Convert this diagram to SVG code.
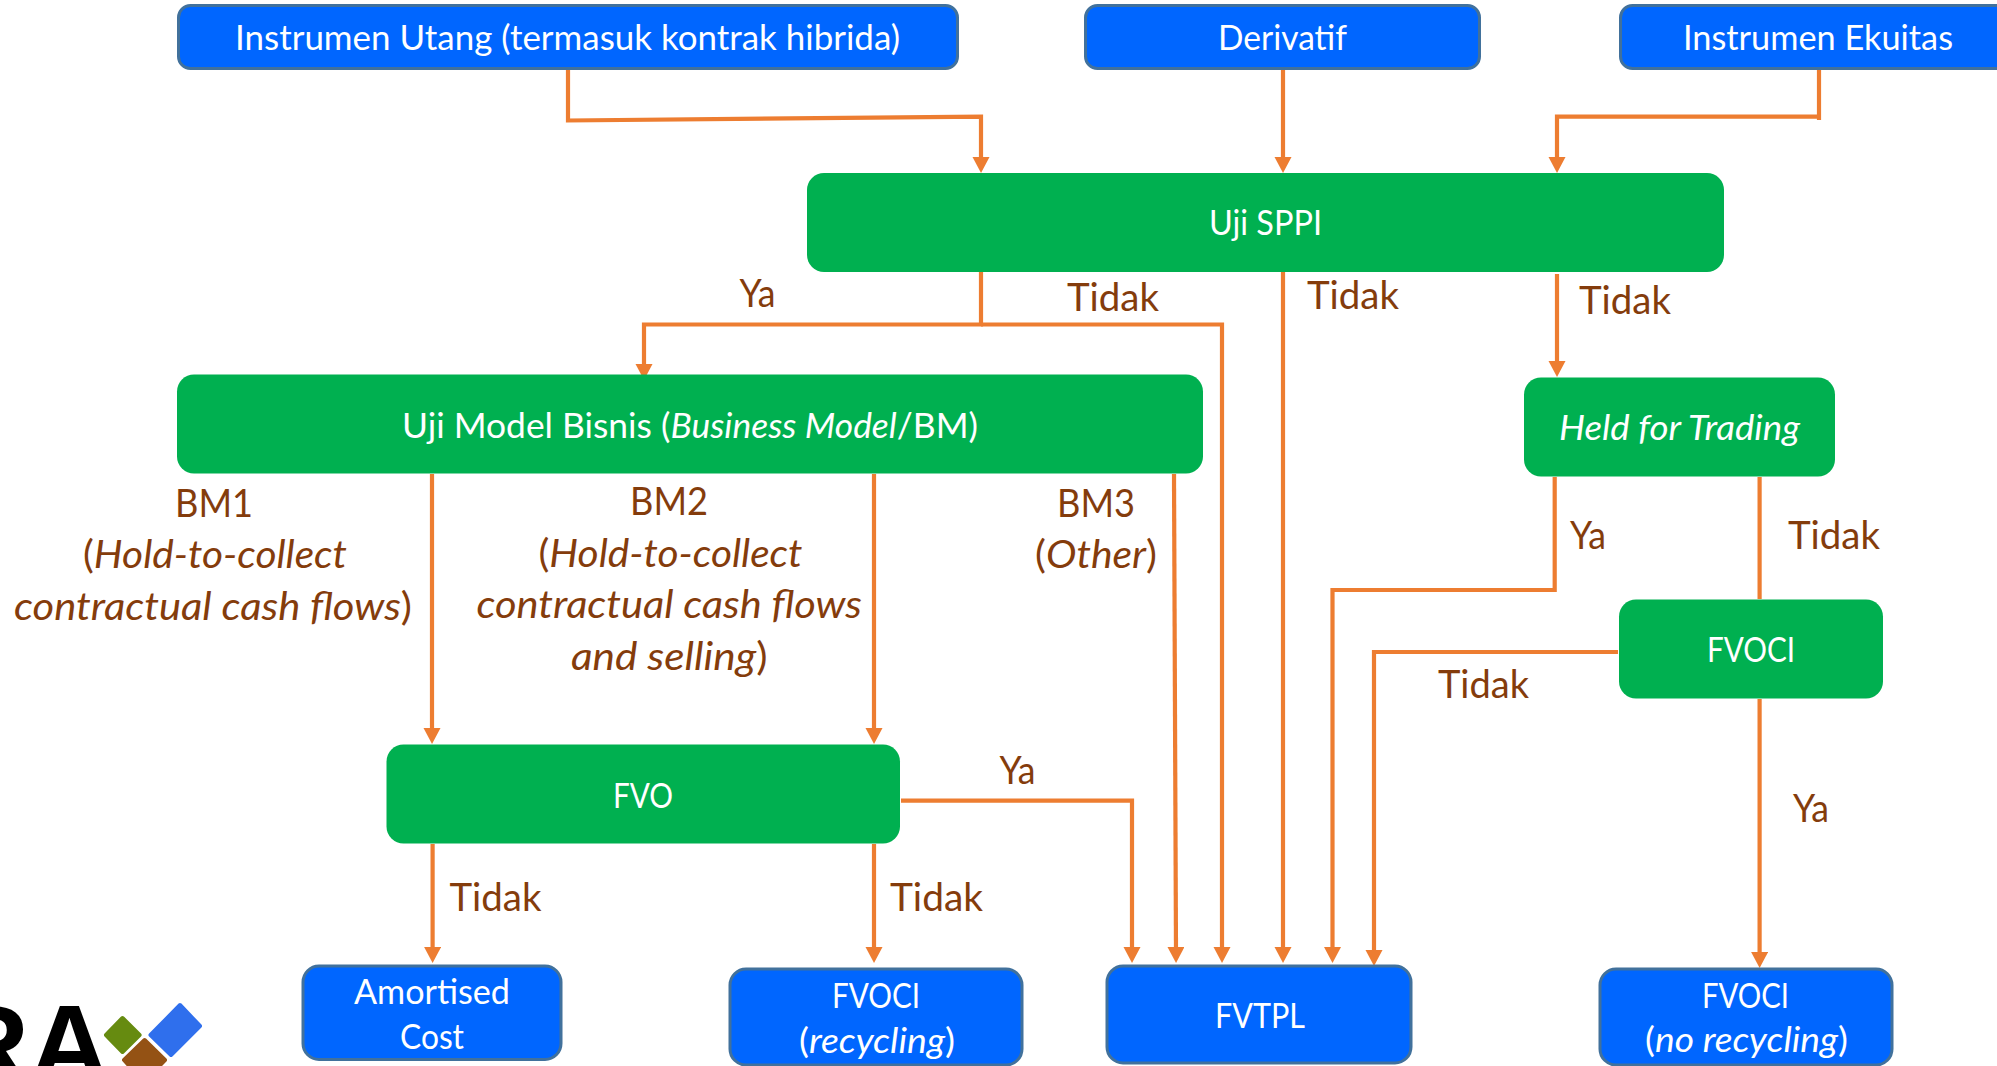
<svg xmlns="http://www.w3.org/2000/svg" width="1997" height="1066" viewBox="0 0 1997 1066">
<style>
text{font-family:Lato,"Open Sans","Liberation Sans",sans-serif}
.w{fill:#fff;font-size:34px}
.b{fill:#843C0C;font-size:39px}
.i{font-style:italic}
.blue{fill:#0066FF;stroke:#41719C;stroke-width:3}
.green{fill:#00B050}
.c{fill:none;stroke:#ED7D31;stroke-width:4.200}
.a{marker-end:url(#arr)}
</style>
<defs>
<marker id="arr" markerUnits="userSpaceOnUse" markerWidth="18" markerHeight="18" refX="6" refY="8.500" orient="auto"><path d="M0,0L16,8.500L0,17z" fill="#ED7D31"/></marker>
</defs>
<rect width="1997" height="1066" fill="#fff"/>

<g id="connectors">
<path class="c a" d="M568,69V120.500L981,116.700V163"/>
<path class="c a" d="M1283,69V163"/>
<path class="c" d="M1819,69V120"/>
<path class="c a" d="M1819,116.700H1557V163"/>
<path class="c a" d="M981,272V324.500H644V370"/>
<path class="c a" d="M981,324.500H1222V953"/>
<path class="c a" d="M1283,272V953"/>
<path class="c a" d="M1557,274V367"/>
<path class="c a" d="M432,474V734"/>
<path class="c a" d="M874,474V734"/>
<path class="c a" d="M1174,474L1176,953"/>
<path class="c a" d="M1554.700,477V590H1332.500V953"/>
<path class="c" d="M1759.600,477V599"/>
<path class="c a" d="M1618,652H1374V956"/>
<path class="c a" d="M1759.600,699V958"/>
<path class="c a" d="M901,800.700H1132V953"/>
<path class="c a" d="M432.600,844V953"/>
<path class="c a" d="M874,844V953"/>
</g>

<g id="node-utang"><rect class="blue" x="178.500" y="5.500" width="779" height="63" rx="12"/><text class="w" x="235" y="50" textLength="665" lengthAdjust="spacingAndGlyphs">Instrumen Utang (termasuk kontrak hibrida)</text></g>
<g id="node-derivatif"><rect class="blue" x="1085.500" y="5.500" width="394" height="63" rx="12"/><text class="w" x="1218" y="50" textLength="129" lengthAdjust="spacingAndGlyphs">Derivatif</text></g>
<g id="node-ekuitas"><rect class="blue" x="1620.500" y="5.500" width="400" height="63" rx="12"/><text class="w" x="1683" y="50" textLength="270" lengthAdjust="spacingAndGlyphs">Instrumen Ekuitas</text></g>
<g id="node-sppi"><rect class="green" x="807" y="173" width="917" height="99" rx="17"/><text class="w" x="1209" y="235" textLength="113" lengthAdjust="spacingAndGlyphs">Uji SPPI</text></g>
<g id="node-model"><rect class="green" x="177" y="374.500" width="1026" height="99" rx="17"/><text class="w" x="402" y="438" textLength="576" lengthAdjust="spacingAndGlyphs">Uji Model Bisnis (<tspan class="i">Business Model</tspan>/BM)</text></g>
<g id="node-hft"><rect class="green" x="1524" y="377.500" width="311" height="99" rx="17"/><text class="w i" x="1559" y="440" textLength="241" lengthAdjust="spacingAndGlyphs">Held for Trading</text></g>
<g id="node-fvoci-test"><rect class="green" x="1619" y="599.500" width="264" height="99" rx="17"/><text class="w" x="1707" y="662" textLength="88" lengthAdjust="spacingAndGlyphs">FVOCI</text></g>
<g id="node-fvo"><rect class="green" x="386.500" y="744.500" width="513.500" height="99" rx="17"/><text class="w" x="613" y="808" textLength="60" lengthAdjust="spacingAndGlyphs">FVO</text></g>
<g id="node-amortised"><rect class="blue" x="303" y="966" width="258" height="93.500" rx="16"/><text class="w" x="354" y="1004" textLength="156" lengthAdjust="spacingAndGlyphs">Amortised</text><text class="w" x="400" y="1049" textLength="64" lengthAdjust="spacingAndGlyphs">Cost</text></g>
<g id="node-fvoci-recycling"><rect class="blue" x="730" y="969" width="292" height="96" rx="16"/><text class="w" x="832" y="1008" textLength="88" lengthAdjust="spacingAndGlyphs">FVOCI</text><text class="w" x="799" y="1053" textLength="156" lengthAdjust="spacingAndGlyphs">(<tspan class="i">recycling</tspan>)</text></g>
<g id="node-fvtpl"><rect class="blue" x="1107" y="966" width="304" height="97" rx="16"/><text class="w" x="1215" y="1028" textLength="90" lengthAdjust="spacingAndGlyphs">FVTPL</text></g>
<g id="node-fvoci-norecycling"><rect class="blue" x="1600" y="969" width="292" height="96" rx="16"/><text class="w" x="1702" y="1008" textLength="87" lengthAdjust="spacingAndGlyphs">FVOCI</text><text class="w" x="1645" y="1052" textLength="203" lengthAdjust="spacingAndGlyphs">(<tspan class="i">no recycling</tspan>)</text></g>

<g id="labels" transform="translate(0,1)">
<text class="b" x="739.500" y="306" textLength="36" lengthAdjust="spacingAndGlyphs">Ya</text>
<text class="b" x="1067" y="310" textLength="92" lengthAdjust="spacingAndGlyphs">Tidak</text>
<text class="b" x="1307" y="308" textLength="92" lengthAdjust="spacingAndGlyphs">Tidak</text>
<text class="b" x="1579" y="313" textLength="92" lengthAdjust="spacingAndGlyphs">Tidak</text>
<text class="b" x="175" y="516" textLength="78" lengthAdjust="spacingAndGlyphs">BM1</text>
<text class="b" x="83" y="567" textLength="264" lengthAdjust="spacingAndGlyphs">(<tspan class="i">Hold-to-collect</tspan></text>
<text class="b" x="14" y="619" textLength="398" lengthAdjust="spacingAndGlyphs"><tspan class="i">contractual cash flows</tspan>)</text>
<text class="b" x="630" y="514" textLength="78" lengthAdjust="spacingAndGlyphs">BM2</text>
<text class="b" x="538.500" y="566" textLength="264" lengthAdjust="spacingAndGlyphs">(<tspan class="i">Hold-to-collect</tspan></text>
<text class="b" x="476.500" y="617" textLength="385.500" lengthAdjust="spacingAndGlyphs"><tspan class="i">contractual cash flows</tspan></text>
<text class="b" x="571" y="669" textLength="196.500" lengthAdjust="spacingAndGlyphs"><tspan class="i">and selling</tspan>)</text>
<text class="b" x="1057" y="516" textLength="78" lengthAdjust="spacingAndGlyphs">BM3</text>
<text class="b" x="1035" y="567" textLength="122" lengthAdjust="spacingAndGlyphs">(<tspan class="i">Other</tspan>)</text>
<text class="b" x="1570" y="548" textLength="36" lengthAdjust="spacingAndGlyphs">Ya</text>
<text class="b" x="1788" y="548" textLength="92" lengthAdjust="spacingAndGlyphs">Tidak</text>
<text class="b" x="1438" y="697" textLength="91" lengthAdjust="spacingAndGlyphs">Tidak</text>
<text class="b" x="999.500" y="783" textLength="36" lengthAdjust="spacingAndGlyphs">Ya</text>
<text class="b" x="1793" y="821" textLength="36" lengthAdjust="spacingAndGlyphs">Ya</text>
<text class="b" x="449.500" y="910" textLength="92" lengthAdjust="spacingAndGlyphs">Tidak</text>
<text class="b" x="890" y="910" textLength="93" lengthAdjust="spacingAndGlyphs">Tidak</text>
</g>

<g id="logo">
<text x="110" y="1083" text-anchor="end" style="font-family:'Liberation Sans',sans-serif;font-weight:700;font-size:112px;fill:#000">RA</text>
<path d="M122.500,1018L139.600,1035L122.500,1052L106,1035z" fill="#668B10" stroke="#668B10" stroke-width="4" stroke-linejoin="round"/>
<path d="M180,1005L200,1026L171,1055L150.500,1035z" fill="#2F6FED" stroke="#2F6FED" stroke-width="4" stroke-linejoin="round"/>
<path d="M144.600,1040L165,1060L144,1082L124,1060z" fill="#945214" stroke="#945214" stroke-width="4" stroke-linejoin="round"/>
</g>
</svg>
